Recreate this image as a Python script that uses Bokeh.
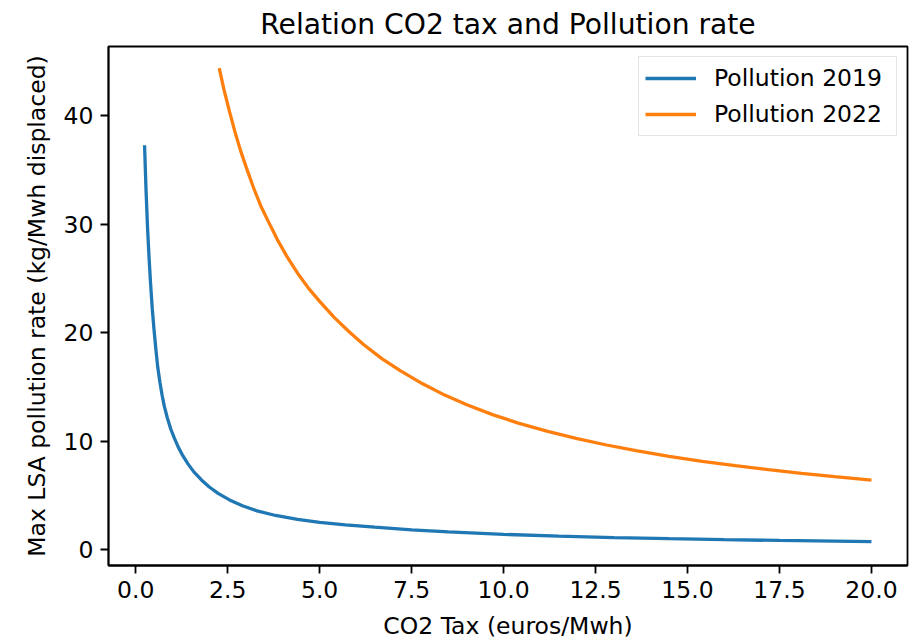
from bokeh.plotting import figure
from bokeh.models import Range1d, FixedTicker, Legend, LegendItem
from bokeh.embed import file_html
from bokeh.resources import INLINE

# ---- data ----
x_2019 = [0.24, 0.28, 0.32, 0.36, 0.40, 0.45, 0.50, 0.55, 0.60, 0.66, 0.72, 0.78,
          0.86, 0.95, 1.05, 1.16, 1.28, 1.42, 1.58, 1.78, 2.00, 2.25, 2.55, 2.90,
          3.30, 3.80, 4.40, 5.00, 5.70, 6.50, 7.50, 8.50, 10.0, 11.5, 13.0, 14.5,
          16.0, 17.5, 19.0, 20.0]
y_2019 = [37.3, 33.2, 29.8, 27.1, 24.75, 22.2, 20.2, 18.4, 16.8, 15.4, 14.2, 13.2,
          12.15, 11.16, 10.29, 9.44, 8.67, 7.92, 7.18, 6.46, 5.79, 5.18, 4.60, 4.06,
          3.59, 3.16, 2.80, 2.53, 2.29, 2.08, 1.84, 1.65, 1.42, 1.25, 1.12, 1.02,
          0.93, 0.86, 0.80, 0.76]

x_2022 = [2.27, 2.40, 2.55, 2.70, 2.85, 3.00, 3.20, 3.40, 3.60, 3.85, 4.10, 4.40,
          4.70, 5.00, 5.40, 5.80, 6.20, 6.70, 7.20, 7.80, 8.40, 9.00, 9.70, 10.40,
          11.20, 12.00, 12.80, 13.60, 14.50, 15.40, 16.30, 17.20, 18.10, 19.00, 20.00]
y_2022 = [44.4, 42.4, 40.4, 38.5, 36.8, 35.3, 33.4, 31.7, 30.3, 28.6, 27.1, 25.5,
          24.1, 22.9, 21.4, 20.1, 18.9, 17.6, 16.5, 15.3, 14.26, 13.37, 12.46, 11.68,
          10.91, 10.25, 9.66, 9.14, 8.62, 8.16, 7.75, 7.38, 7.04, 6.74, 6.43]

series_names = ["Pollution 2019", "Pollution 2022"]
x_ticks = [0.0, 2.5, 5.0, 7.5, 10.0, 12.5, 15.0, 17.5, 20.0]
x_tick_labels = ["0.0", "2.5", "5.0", "7.5", "10.0", "12.5", "15.0", "17.5", "20.0"]
y_ticks = [0, 10, 20, 30, 40]
y_tick_labels = ["0", "10", "20", "30", "40"]

title_text = "Relation CO2 tax and Pollution rate"
x_label = "CO2 Tax (euros/Mwh)"
y_label = "Max LSA pollution rate (kg/Mwh displaced)"

# ---- styling ----
FONT = "DejaVu Sans"
FS = "23.5px"
BLUE = "#1f77b4"
ORANGE = "#ff7f0e"

p = figure(width=909, height=642,
           x_range=Range1d(-0.74, 20.98), y_range=Range1d(-1.45, 46.4),
           output_backend="svg", toolbar_location=None,
           min_border_left=108, min_border_right=2,
           min_border_top=45, min_border_bottom=77,
           background_fill_color="white", border_fill_color="white")

p.title.text = title_text
p.title.align = "center"
p.title.text_font = FONT
p.title.text_font_size = "28.2px"
p.title.text_font_style = "normal"
p.title.text_color = "black"
p.title.standoff = 11

p.xgrid.visible = False
p.ygrid.visible = False
p.outline_line_color = "black"
p.outline_line_width = 1.8
p.outline_line_alpha = 1.0

for ax in (p.xaxis[0], p.yaxis[0]):
    ax.axis_line_color = "black"
    ax.axis_line_width = 1.8
    ax.major_tick_line_color = "black"
    ax.major_tick_line_width = 1.8
    ax.major_tick_out = 8
    ax.major_tick_in = 0
    ax.minor_tick_line_color = None
    ax.major_label_text_font = FONT
    ax.major_label_text_font_size = FS
    ax.major_label_text_color = "black"
    ax.axis_label_text_font = FONT
    ax.axis_label_text_font_size = FS
    ax.axis_label_text_font_style = "normal"
    ax.axis_label_text_color = "black"

p.xaxis.ticker = FixedTicker(ticks=x_ticks)
p.xaxis.major_label_overrides = {t: l for t, l in zip(x_ticks, x_tick_labels)}
p.yaxis.ticker = FixedTicker(ticks=y_ticks)
p.yaxis.major_label_overrides = {t: l for t, l in zip(y_ticks, y_tick_labels)}
p.xaxis.axis_label = x_label
p.yaxis.axis_label = y_label
p.xaxis.major_label_standoff = 7
p.yaxis.major_label_standoff = 7
p.xaxis.axis_label_standoff = 11
p.yaxis.axis_label_standoff = 10

r1 = p.line(x_2019, y_2019, line_color=BLUE, line_width=3.3)
r2 = p.line(x_2022, y_2022, line_color=ORANGE, line_width=3.3)

legend = Legend(items=[LegendItem(label=series_names[0], renderers=[r1]),
                       LegendItem(label=series_names[1], renderers=[r2])],
                location="top_right")
legend.margin = 10
legend.padding = 6
legend.spacing = 6
legend.glyph_width = 51
legend.glyph_height = 30
legend.label_height = 30
legend.label_width = 176
legend.label_standoff = 18
legend.label_text_font = FONT
legend.label_text_font_size = FS
legend.label_text_color = "black"
legend.border_line_color = "#cccccc"
legend.border_line_width = 1.5
legend.background_fill_color = "white"
legend.background_fill_alpha = 0.8
p.add_layout(legend, "center")

open("out.html", "w").write(file_html(p, INLINE))
